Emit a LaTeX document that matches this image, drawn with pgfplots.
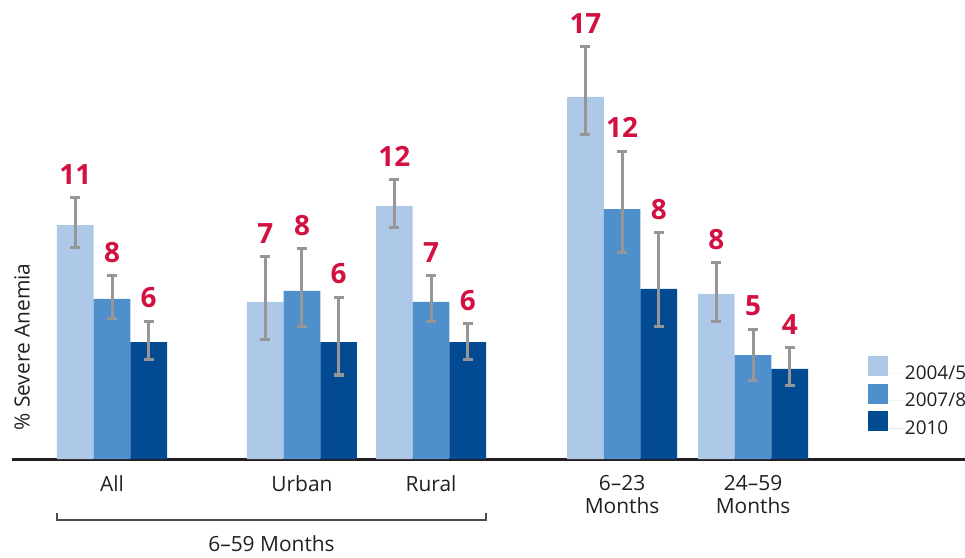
\documentclass[border=0pt]{standalone}
\usepackage{pgfplots}
\pgfplotsset{compat=1.18}
\usepackage{pgfplotstable}
\usepackage{fontspec}
\setmainfont{Open Sans}

\definecolor{lightbar}{RGB}{174,201,232}
\definecolor{midbar}{RGB}{79,143,204}
\definecolor{darkbar}{RGB}{2,74,145}
\definecolor{errgray}{RGB}{150,150,150}
\definecolor{crimson}{RGB}{210,16,66}
\definecolor{txt}{RGB}{35,31,32}

\pgfplotsset{sqlegend/.style={legend image code/.code={%
  \fill[##1] (0bp,-3bp) rectangle (20bp,17bp); \path (20bp,0) -- (37bp,0);}}}

% x = group position (bar widths), y = % severe anemia, ep/em = CI up/down
\pgfplotstableread{
x     y      ep    em    lab
0     11.14  1.29  1.05  11
5.18  7.48   2.14  1.81  7
8.70  12.05  1.24  1.05  12
13.91 17.24  2.38  1.81  17
17.48 7.86   1.48  1.33  8
}\sA
\pgfplotstableread{
x     y      ep    em    lab
0     7.62   1.10  0.95  8
5.18  8.00   2.00  1.71  8
8.70  7.48   1.24  0.95  7
13.91 11.90  2.76  2.05  12
17.48 4.95   1.24  1.19  5
}\sB
\pgfplotstableread{
x     y      ep    em    lab
0     5.57   1.00  0.81  6
5.18  5.57   2.14  1.57  6
8.70  5.57   0.86  0.81  6
13.91 8.10   2.67  1.81  8
17.48 4.29   1.00  0.81  4
}\sC

\begin{document}
\begin{tikzpicture}
\begin{axis}[
width=953bp, height=459bp, scale only axis,
xmin=-2.727, xmax=23.26, ymin=0, ymax=21.857,
axis y line=none, axis x line*=bottom,
x axis line style={-, line width=3bp, color=txt},
xtick={0,5.18,8.70,13.91,17.48},
xticklabels={All, Urban, Rural, 6–23\\Months, 24–59\\Months},
xticklabel style={align=center, font=\fontsize{21}{23}\selectfont, text=txt, anchor=north, inner sep=0pt, yshift=-16bp},
major tick length=0pt,
clip=false,
bar width=1,
legend style={at={(rel axis cs:0.898,0.2244)}, anchor=north west, draw=none, fill=none,
  inner sep=0pt, font=\fontsize{19}{23}\selectfont, text=txt, row sep=3bp,
  nodes={inner sep=0pt}},
legend cell align=left,
error bars/error bar style={line width=3bp, draw=errgray},
error bars/error mark options={rotate=90, mark size=5bp, line width=3bp, draw=errgray},
every node near coord/.style={anchor=south, inner sep=0pt, yshift=13bp,
  font=\fontsize{28}{30}\selectfont\bfseries, text=crimson},
]
\coordinate (O) at (rel axis cs:0,0);

% bars
\addplot[ybar, bar shift=-1, fill=lightbar, draw=none, forget plot] table[x=x, y=y]{\sA};
\addplot[ybar, bar shift=0, fill=midbar, draw=none, forget plot] table[x=x, y=y]{\sB};
\addplot[ybar, bar shift=1, fill=darkbar, draw=none, forget plot] table[x=x, y=y]{\sC};

% confidence intervals
\addplot[draw=none, mark=none, forget plot, error bars/.cd, y dir=both, y explicit]
  table[x expr=\thisrow{x}-1, y=y, y error plus=ep, y error minus=em]{\sA};
\addplot[draw=none, mark=none, forget plot, error bars/.cd, y dir=both, y explicit]
  table[x=x, y=y, y error plus=ep, y error minus=em]{\sB};
\addplot[draw=none, mark=none, forget plot, error bars/.cd, y dir=both, y explicit]
  table[x expr=\thisrow{x}+1, y=y, y error plus=ep, y error minus=em]{\sC};

% value labels above the error bars
\addplot[draw=none, mark=none, forget plot, nodes near coords, point meta=explicit symbolic]
  table[x expr=\thisrow{x}-1, y expr=\thisrow{y}+\thisrow{ep}, meta=lab]{\sA};
\addplot[draw=none, mark=none, forget plot, nodes near coords, point meta=explicit symbolic]
  table[x=x, y expr=\thisrow{y}+\thisrow{ep}, meta=lab]{\sB};
\addplot[draw=none, mark=none, forget plot, nodes near coords, point meta=explicit symbolic]
  table[x expr=\thisrow{x}+1, y expr=\thisrow{y}+\thisrow{ep}, meta=lab]{\sC};

\addlegendimage{fill=lightbar, draw=none, sqlegend}
\addlegendentry{2004/5}
\addlegendimage{fill=midbar, draw=none, sqlegend}
\addlegendentry{2007/8}
\addlegendimage{fill=darkbar, draw=none, sqlegend}
\addlegendentry{2010}

\node[rotate=90, font=\fontsize{21}{23}\selectfont, text=txt] at (rel axis cs:0.0105,0.244) {\% Severe Anemia};
\draw[line width=1.2bp, color=txt!80] ([yshift=-54bp]axis cs:-1.5,0) |- ([yshift=-61bp]axis cs:10.2,0) -- ([yshift=-54bp]axis cs:10.2,0);
\node[font=\fontsize{21}{23}\selectfont, text=txt] at ([yshift=-85bp]axis cs:4.35,0) {6–59 Months};
\end{axis}
\pgfresetboundingbox
\path ([xshift=-12bp,yshift=-99bp]O) rectangle ([xshift=953bp,yshift=459bp]O);
\end{tikzpicture}
\end{document}
